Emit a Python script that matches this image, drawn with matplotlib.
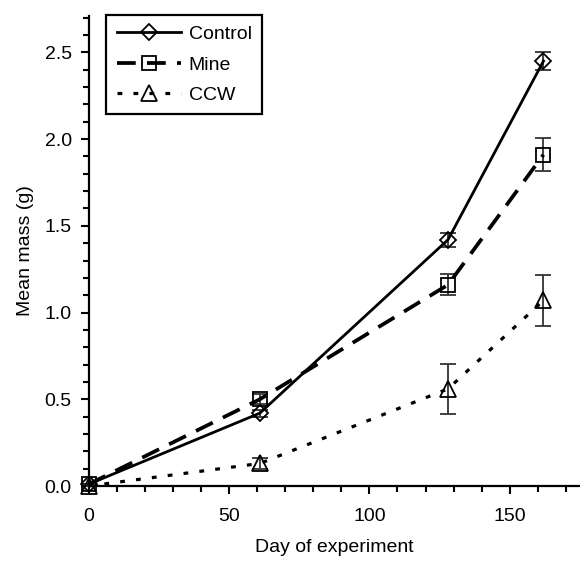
import matplotlib.pyplot as plt
from matplotlib.ticker import MultipleLocator

"""DATA"""
days = [0, 61, 128, 162]
control = [0.01, 0.42, 1.42, 2.45]
control_err = [0.0, 0.02, 0.04, 0.05]
mine = [0.01, 0.50, 1.16, 1.91]
mine_err = [0.0, 0.03, 0.06, 0.095]
ccw = [0.0, 0.13, 0.56, 1.07]
ccw_err = [0.0, 0.03, 0.145, 0.145]

plt.rcParams['font.family'] = ['Liberation Sans', 'DejaVu Sans']
plt.rcParams['font.size'] = 14

fig = plt.figure(figsize=(5.8, 5.65), dpi=100)
ax = fig.add_axes([0.1526, 0.1398, 0.8474, 0.832])

err_kw = dict(ecolor="#333333", elinewidth=1.3, capsize=6, capthick=1.3)
c1 = ax.errorbar(days, control, yerr=control_err, color="black", linestyle="-", linewidth=2.0,
                 marker="D", markersize=8, markerfacecolor="none", markeredgewidth=1.3,
                 label="Control", clip_on=False, zorder=3, **err_kw)
c2 = ax.errorbar(days, mine, yerr=mine_err, color="black", linestyle=(0, (5, 3)), linewidth=2.7,
                 marker="s", markersize=10, markerfacecolor="none", markeredgewidth=1.3,
                 label="Mine", clip_on=False, zorder=3, **err_kw)
c3 = ax.errorbar(days, ccw, yerr=ccw_err, color="black", linestyle=(0, (1.5, 3.5)), linewidth=2.3,
                 marker="^", markersize=11, markerfacecolor="none", markeredgewidth=1.3,
                 label="CCW", clip_on=False, zorder=3, **err_kw)

ax.set_xlim(0, 175)
ax.set_ylim(0, 2.71)
ax.xaxis.set_major_locator(MultipleLocator(50))
ax.xaxis.set_minor_locator(MultipleLocator(10))
ax.yaxis.set_major_locator(MultipleLocator(0.5))
ax.yaxis.set_minor_locator(MultipleLocator(0.1))
ax.yaxis.set_major_formatter(plt.FormatStrFormatter("%.1f"))

for s in ["top", "right"]:
    ax.spines[s].set_visible(False)
for s in ["left", "bottom"]:
    ax.spines[s].set_linewidth(1.6)

ax.tick_params(which="major", direction="out", length=6, width=1.5, labelsize=14, pad=10)
ax.tick_params(which="minor", direction="out", length=4.5, width=1.5)
ax.tick_params(axis="y", which="major", pad=6)

ax.set_xlabel("Day of experiment", fontsize=14, labelpad=10)
ax.set_ylabel("Mean mass (g)", fontsize=14, labelpad=8)

handles = [c1.lines[0], c2.lines[0], c3.lines[0]]
leg = ax.legend(handles=handles, labels=["Control", "Mine", "CCW"],
                loc="upper left", bbox_to_anchor=(106 / 580, 1 - 15 / 565),
                bbox_transform=fig.transFigure, borderaxespad=0, frameon=True,
                fancybox=False, edgecolor="black", framealpha=1, handlelength=3.3,
                handletextpad=0.4, labelspacing=0.65, borderpad=0.55, fontsize=14)
leg.get_frame().set_linewidth(1.6)

fig.savefig("out.png", dpi=100)
